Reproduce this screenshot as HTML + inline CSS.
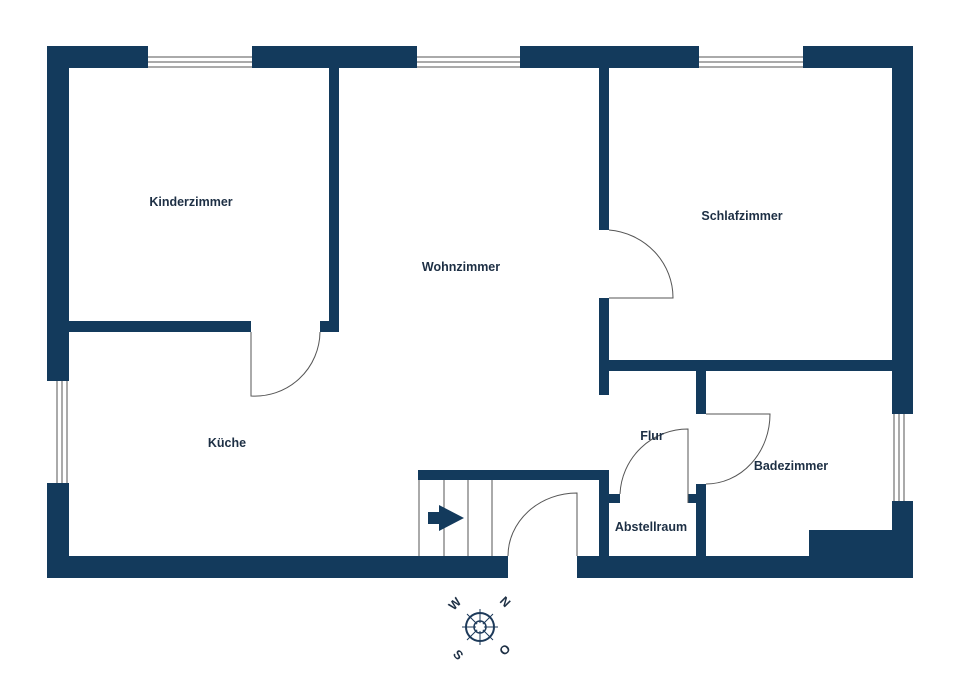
<!DOCTYPE html>
<html><head><meta charset="utf-8"><style>
html,body{margin:0;padding:0;background:#fff}
svg{display:block}
text{font-family:"Liberation Sans",sans-serif;font-weight:bold;font-size:12.5px;fill:#1d2f44}
</style></head><body>
<svg width="960" height="673" viewBox="0 0 960 673" xmlns="http://www.w3.org/2000/svg">
<g fill="#133a5c">
<!-- top wall segments -->
<rect x="47" y="46" width="101" height="22"/>
<rect x="252" y="46" width="165" height="22"/>
<rect x="520" y="46" width="179" height="22"/>
<rect x="803" y="46" width="110" height="22"/>
<!-- left wall -->
<rect x="47" y="46" width="22" height="335"/>
<rect x="47" y="483" width="22" height="95"/>
<!-- right wall -->
<rect x="892" y="46" width="21" height="368"/>
<rect x="892" y="501" width="21" height="77"/>
<!-- bottom wall -->
<rect x="47" y="556" width="461" height="22"/>
<rect x="577" y="556" width="336" height="22"/>
<!-- kinderzimmer -->
<rect x="329" y="68" width="10" height="264"/>
<rect x="69" y="321" width="182" height="11"/>
<rect x="320" y="321" width="19" height="11"/>
<!-- schlafzimmer -->
<rect x="599" y="68" width="10" height="162"/>
<rect x="599" y="298" width="10" height="97"/>
<rect x="599" y="360" width="293" height="11"/>
<!-- bad -->
<rect x="696" y="371" width="10" height="43"/>
<rect x="696" y="484" width="10" height="72"/>
<rect x="809" y="530" width="83" height="26"/>
<!-- abstell/stairs -->
<rect x="418" y="470" width="191" height="10"/>
<rect x="599" y="470" width="10" height="86"/>
<rect x="609" y="494" width="11" height="9"/>
<rect x="688" y="494" width="8" height="9"/>
</g>
<g fill="none" stroke="#555" stroke-width="1">
<!-- windows top -->
<path d="M148 57H252M148 62H252M148 67H252"/>
<path d="M417 57H520M417 62H520M417 67H520"/>
<path d="M699 57H803M699 62H803M699 67H803"/>
<!-- left window -->
<path d="M57 381V483M62 381V483M67 381V483"/>
<!-- right window -->
<path d="M894 414V501M899 414V501M904 414V501"/>
<!-- doors -->
<path d="M251 332V396A65 65 0 0 0 320 332"/>
<path d="M609 298H673A70 68 0 0 0 609 230"/>
<path d="M706 414H770A64 70 0 0 1 706 484"/>
<path d="M688 503V429A68 68 0 0 0 620 494"/>
<path d="M577 556V493A69 63 0 0 0 508 556"/>
<!-- stairs -->
<path d="M419 480V556M444 480V556M468 480V556M492 480V556"/>
</g>
<g fill="#133a5c">
<path d="M428 512H439V505L464 518L439 531V524H428Z"/>
</g>
<text x="191" y="206" text-anchor="middle">Kinderzimmer</text>
<text x="461" y="271" text-anchor="middle">Wohnzimmer</text>
<text x="742" y="220" text-anchor="middle">Schlafzimmer</text>
<text x="227" y="447" text-anchor="middle">Küche</text>
<text x="652" y="440" text-anchor="middle">Flur</text>
<text x="791" y="470" text-anchor="middle">Badezimmer</text>
<text x="651" y="531" text-anchor="middle">Abstellraum</text>
<!-- compass -->
<g stroke="#1d3a5a" fill="none">
<circle cx="480" cy="627" r="14" stroke-width="2"/>
<circle cx="480" cy="627" r="6" stroke-width="1.5"/>
<path d="M480 609V645M462 627H498M467 614L493 640M493 614L467 640" stroke-width="1"/>
</g>
<circle cx="480" cy="627" r="4" fill="#fff"/>
<g style="font-size:11px">
<text x="455" y="608" transform="rotate(-45 455 604)" text-anchor="middle">W</text>
<text x="505" y="606" transform="rotate(45 505 602)" text-anchor="middle">N</text>
<text x="458" y="659" transform="rotate(45 458 655)" text-anchor="middle">S</text>
<text x="505" y="654" transform="rotate(-45 505 650)" text-anchor="middle">O</text>
</g>
</svg>
</body></html>
